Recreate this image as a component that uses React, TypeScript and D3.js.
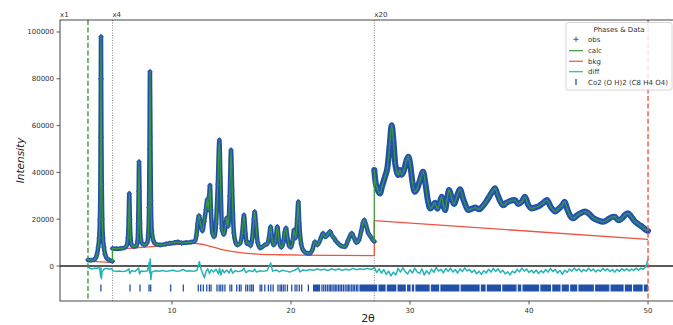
import React from 'react';
import * as d3 from 'd3';

const W = 673;
const H = 325;

// ---- observed / calculated profile, as displayed (scaled x1, x4, x20) ----
const region1: [number, number][] = [
  [2.94, 2600], [3.2, 2500], [3.45, 2700], [3.6, 3500], [3.7, 5000], [3.8, 8000], [3.88, 12000],
  [3.94, 20000], [3.98, 35000], [4.0, 55000], [4.02, 80000], [4.035, 98000], [4.05, 80000],
  [4.07, 55000], [4.1, 35000], [4.14, 20000], [4.2, 12000], [4.28, 8000], [4.38, 5000],
  [4.5, 3500], [4.7, 2600], [5.0, 2000],
];

const region2: [number, number][] = [
  [5.0, 7500], [5.3, 7400], [5.7, 7500], [6.0, 7800], [6.2, 8800], [6.3, 12000], [6.36, 20000],
  [6.41, 31000], [6.46, 20000], [6.52, 12000], [6.62, 9000], [6.8, 8300], [7.0, 8600],
  [7.1, 10500], [7.16, 18000], [7.2, 32000], [7.23, 44600], [7.27, 32000], [7.31, 18000],
  [7.38, 11500], [7.5, 9500], [7.7, 9000], [7.9, 9800], [8.0, 13000], [8.07, 25000],
  [8.11, 50000], [8.15, 83000], [8.19, 55000], [8.23, 28000], [8.3, 15000], [8.42, 11000],
  [8.6, 9500], [9.0, 9000], [9.5, 9400], [9.8, 9700], [10.2, 10000], [10.5, 10300],
  [10.8, 9800], [11.2, 10000], [11.6, 10200], [11.9, 10500], [12.05, 13000], [12.15, 18000],
  [12.27, 21500], [12.4, 18000], [12.55, 15000], [12.7, 19000], [12.85, 24000], [12.97, 28500],
  [13.05, 24000], [13.13, 30000], [13.19, 34500], [13.27, 24000], [13.4, 14000], [13.55, 12500],
  [13.7, 18000], [13.85, 35000], [13.98, 53800], [14.07, 38000], [14.2, 16000], [14.35, 13500],
  [14.5, 17000], [14.6, 20500], [14.72, 17000], [14.85, 30000], [14.96, 49600], [15.06, 32000],
  [15.2, 14000], [15.35, 10000], [15.5, 9000], [15.7, 9500], [15.9, 14000], [16.05, 21800],
  [16.17, 14000], [16.3, 9500], [16.45, 10000], [16.6, 8600], [16.75, 12000], [16.88, 20000],
  [16.95, 23200], [17.05, 18000], [17.2, 10000], [17.4, 7700], [17.6, 8200], [17.8, 9000],
  [18.0, 9500], [18.15, 12000], [18.29, 16800], [18.42, 11000], [18.55, 9000], [18.7, 11000],
  [18.85, 16800], [19.0, 10500], [19.2, 8000], [19.35, 10000], [19.48, 14500], [19.58, 16200],
  [19.7, 12000], [19.85, 8500], [20.0, 8000], [20.15, 11000], [20.25, 15400], [20.4, 12000],
  [20.52, 20000], [20.61, 27500], [20.7, 18000], [20.85, 9500], [21.0, 7000], [21.2, 5800],
  [21.4, 5400], [21.6, 5400], [21.8, 7000], [22.0, 10400], [22.2, 9000], [22.4, 10500],
  [22.55, 12500], [22.7, 14000], [22.85, 12500], [23.0, 12800], [23.15, 14000], [23.28, 14700],
  [23.45, 13000], [23.6, 12000], [23.8, 10500], [24.0, 9500], [24.2, 8600], [24.54, 8250],
  [24.8, 11000], [25.1, 14000], [25.3, 12000], [25.5, 10000], [25.7, 11000], [25.9, 15000],
  [26.05, 18500], [26.16, 19700], [26.3, 17500], [26.5, 14000], [26.7, 12500], [26.9, 11000],
  [27.0, 10500],
];

const region3: [number, number][] = [
  [27.0, 41000], [27.1, 36000], [27.25, 33000], [27.48, 31000], [27.65, 34000], [27.9, 38200],
  [28.1, 42000], [28.3, 52000], [28.46, 60200], [28.6, 54000], [28.75, 44000], [28.9, 40000],
  [29.0, 38900], [29.15, 41000], [29.3, 39000], [29.5, 41000], [29.7, 45000], [29.86, 46700],
  [30.0, 44000], [30.2, 36000], [30.4, 31700], [30.6, 33000], [30.85, 37000], [31.1, 40300],
  [31.3, 35000], [31.5, 28000], [31.7, 24600], [31.9, 25500], [32.1, 27000], [32.3, 24500],
  [32.5, 27000], [32.66, 29600], [32.8, 26000], [32.94, 23900], [33.1, 28000], [33.28, 32500],
  [33.5, 29000], [33.7, 26500], [33.95, 30000], [34.2, 32800], [34.45, 29000], [34.7, 25500],
  [34.9, 23900], [35.2, 24500], [35.5, 25000], [35.8, 24200], [36.1, 25500], [36.4, 27500],
  [36.7, 30000], [36.95, 32000], [37.14, 33200], [37.35, 30500], [37.6, 27500], [37.84, 26000],
  [38.1, 27000], [38.4, 27800], [38.82, 28200], [39.1, 26500], [39.4, 27500], [39.66, 29600],
  [39.9, 26500], [40.2, 24600], [40.5, 25000], [40.8, 25500], [41.2, 27000], [41.5, 28200],
  [41.8, 25500], [42.2, 23300], [42.5, 24500], [42.8, 26000], [43.0, 27500], [43.2, 24500],
  [43.45, 21500], [43.72, 20400], [44.0, 21500], [44.3, 22500], [44.7, 23300], [45.0, 22500],
  [45.4, 20500], [45.8, 19500], [46.25, 18900], [46.6, 19800], [47.0, 21000], [47.2, 21100],
  [47.5, 19500], [47.8, 20300], [48.1, 22000], [48.33, 22500], [48.6, 21000], [48.9, 19000],
  [49.2, 17800], [49.5, 16800], [49.8, 15500], [50.0, 15000],
];

// ---- background ----
const bkg1: [number, number][] = [[2.94, 2100], [4.0, 1800], [5.0, 1500]];
const bkg2: [number, number][] = [
  [5.0, 7100], [6, 7400], [7, 7800], [8, 8200], [9, 8600], [10, 9000], [11, 9400], [11.8, 9700],
  [12.5, 9300], [13.3, 8300], [14.3, 6900], [15.3, 6000], [16.3, 5400], [17.5, 5000], [19, 4800],
  [21, 4650], [24, 4550], [27.0, 4450],
];
const bkg3: [number, number][] = [[27.0, 19400], [50.0, 11400]];

// ---- difference curve ----
const diffLow: [number, number][] = [
  [2.94, -300], [3.1, -1000], [3.3, -1300], [3.5, -900], [3.7, -1100], [3.85, -500], [3.95, -1800],
  [4.0, -4600], [4.03, -800], [4.07, -5400], [4.13, -2400], [4.3, -1300], [4.5, -1000], [4.7, -1400],
  [4.9, -1100], [5.0, -1600],
  [5.0, -2000], [5.3, -2300], [5.6, -2100], [5.9, -2400], [6.2, -2000], [6.38, -1200], [6.44, -3200],
  [6.6, -2000], [6.9, -2300], [7.2, -900], [7.27, -3400], [7.4, -2100], [7.7, -2300], [7.95, -2000],
  [8.08, 1500], [8.13, -3000], [8.17, 3000], [8.22, -5800], [8.3, -2600], [8.6, -2000], [8.9, -2200],
  [9.2, -1900], [9.5, -2300], [9.8, -2000], [10.1, -1800], [10.4, -2300], [10.7, -2000], [10.95, -1500],
  [11.2, -2200], [11.5, -2000], [11.8, -2300], [12.1, -1800], [12.3, 1800], [12.45, -1500],
  [12.6, -3500], [12.72, -5000], [12.85, -2500], [13.0, -1200], [13.15, -3200], [13.3, -1600],
  [13.5, -2600], [13.7, -1400], [13.9, -3400], [14.0, -1000], [14.1, -3800], [14.25, -1500],
  [14.4, -2900], [14.6, -1700], [14.8, -3000], [14.95, -1200], [15.1, -3100], [15.3, -2000],
  [15.6, -2400], [15.9, -1900], [16.05, -1000], [16.2, -2800], [16.5, -1900], [16.8, -2400],
  [16.95, -1300], [17.1, -2600], [17.4, -2000], [17.7, -2300], [18.0, -1900], [18.29, 1300],
  [18.45, -2200], [18.8, -1700], [19.0, -2500], [19.3, -1800], [19.6, -2200], [19.9, -2600],
  [20.1, -2200], [20.4, -1600], [20.6, -800], [20.75, -2500], [21.0, -1700], [21.3, -1900],
  [21.6, -1500], [21.9, -1800], [22.2, -1300], [22.5, -1700], [22.8, -1400], [23.1, -1900],
  [23.4, -1200], [23.7, -1700], [24.0, -1300], [24.3, -1800], [24.6, -1400], [24.9, -1700],
  [25.2, -1000], [25.5, -1600], [25.8, -1200], [26.1, -1500], [26.4, -1000], [26.7, -1500],
  [27.0, -800],
];
const diffHighStart = 27.0;
const diffHighStep = 0.2;
const diffHighValues = [
  -600, -2800, -1200, -3000, -1500, -3600, -2200, -4200, -2600, -3800, -1000, -2600, -800, -2400,
  -3400, -1600, -3000, -900, -2500, -3200, -1200, -3800, -2000, -3500, -1300, -2700, -600, -2200,
  -1400, -2900, -1100, -2300, -900, -2600, -1500, -3000, -1200, -2400, -800, -2100, -1500, -2800,
  -1700, -3300, -2200, -3600, -2000, -3000, -1400, -2600, -1000, -2300, -1200, -2800, -1800, -3400,
  -2500, -3800, -2200, -3000, -1400, -2500, -900, -2200, -1300, -2800, -1800, -3000, -1700, -3200,
  -2000, -2900, -1500, -2600, -1000, -2400, -1500, -3000, -1900, -3600, -1800, -2700, -1300, -2200,
  -900, -2000, -1200, -2500, -1500, -2200, -1000, -2100, -1300, -2500, -1600, -2300, -1000, -2000,
  -1200, -2400, -1500, -2600, -1400, -2300, -1100, -2000, -1200, -2100, -1300, -1900, -900, -1800,
  -900, -1400, -300, 2800,
];

// ---- reflection positions (2θ) ----
const reflTicks = [
  4.03, 6.47, 7.31, 8.07, 8.21, 9.89, 10.95, 12.21, 12.41, 12.63, 12.92, 13.14, 13.28, 13.78, 13.96,
  14.1, 14.26, 14.45, 14.87, 15.02, 15.44, 15.66, 15.8, 16.2, 16.36, 16.55, 16.7, 16.83, 17.4, 17.54,
  17.8, 18.1, 18.3, 18.5, 18.9, 19.08, 19.2, 19.35, 19.5, 19.7, 20.06, 20.34, 20.5, 20.7, 20.9, 21.46,
  22.6, 22.75, 22.9, 23.05, 23.2, 23.32, 23.45, 23.6, 23.72, 23.85, 24.0, 24.12, 24.25, 24.4, 24.55,
  24.7, 24.82, 24.95, 25.1, 25.22, 25.35, 25.5, 25.62,
];
const reflBands: [number, number][] = [
  [21.85, 22.45], [25.75, 27.25], [27.35, 27.95], [28.05, 28.85], [28.95, 29.65], [29.75, 30.05],
  [30.15, 30.35], [30.45, 31.65], [31.75, 32.45], [32.55, 34.15], [34.25, 35.85], [35.95, 36.35],
  [36.45, 37.65], [37.75, 38.95], [39.05, 39.35], [39.45, 40.85], [40.95, 41.85], [41.95, 42.65],
  [42.75, 43.35], [43.45, 44.05], [44.15, 45.45], [45.55, 46.75], [46.85, 47.95], [48.05, 48.65],
  [48.75, 49.55], [49.65, 50.0],
];

const xTicks = [10, 20, 30, 40, 50];
const yTicks = [0, 20000, 40000, 60000, 80000, 100000];
const scaleLabels = ['x1', 'x4', 'x20'];
const scaleStarts = [0.59, 5.0, 27.0];
const limits = [2.94, 50.0];
const reflLevel = -9400;

const C_OBS = '#2150a8';
const C_MARK = '#2d5dc0';
const C_CALC = '#3c9a3c';
const C_BKG = '#ef5443';
const C_DIFF = '#25b4b4';

export default function App() {
  const x = d3.scaleLinear().domain([0.59, 52.35]).range([60, 676]);
  const y = d3.scaleLinear().domain([-14957, 105128]).range([301, 20]);
  const smooth = d3.line<[number, number]>().x((d) => x(d[0])).y((d) => y(d[1])).curve(d3.curveMonotoneX);
  const straight = d3.line<[number, number]>().x((d) => x(d[0])).y((d) => y(d[1]));

  const regions = [region1, region2, region3];
  const bkgs = [bkg1, bkg2, bkg3];
  const diffHigh: [number, number][] = diffHighValues.map((v, i) => [diffHighStart + i * diffHighStep, v]);
  const diffAll = diffLow.concat(diffHigh);

  const joins = (arr: [number, number][][]) =>
    arr.slice(1).map((r, i) => {
      const a = arr[i][arr[i].length - 1];
      const b = r[0];
      return [a, b] as [number, number][];
    });

  const top = 20, bottom = 301, left = 60;
  const font = "'DejaVu Sans', sans-serif";

  return (
    <svg width={W} height={H} style={{ position: 'fixed', left: 0, top: 0, background: '#fff' }} fontFamily={font}>
      <rect x={0} y={0} width={W} height={H} fill="#fff" />
      {/* zero line */}
      <line x1={left} x2={676} y1={y(0)} y2={y(0)} stroke="#222" strokeWidth={1.3} />
      {/* scale boundaries */}
      {scaleStarts.slice(1).map((t, i) => (
        <line key={'sb' + i} x1={x(t)} x2={x(t)} y1={top} y2={bottom} stroke="#777" strokeWidth={0.9} strokeDasharray="1,1.5" />
      ))}
      {/* diff */}
      <path d={straight(diffAll) || ''} fill="none" stroke={C_DIFF} strokeWidth={1.5} strokeLinejoin="round" />
      {/* background */}
      {bkgs.map((b, i) => (
        <path key={'bk' + i} d={smooth(b) || ''} fill="none" stroke={C_BKG} strokeWidth={1.3} />
      ))}
      {joins(bkgs).map((s, i) => (
        <path key={'bj' + i} d={straight(s) || ''} fill="none" stroke={C_BKG} strokeWidth={1.3} />
      ))}
      {/* observed band */}
      {regions.map((r, i) => (
        <path key={'ob' + i} d={smooth(r) || ''} fill="none" stroke={C_OBS} strokeWidth={i === 2 ? 6 : 4.5} strokeLinejoin="round" strokeLinecap="round" />
      ))}
      {regions.map((r, i) =>
        r.map((d, j) => (
          <path key={'m' + i + '-' + j} d={`M${x(d[0]) - 2.6},${y(d[1])}h5.2M${x(d[0])},${y(d[1]) - 2.6}v5.2`} stroke={C_MARK} strokeWidth={1} />
        ))
      )}
      {/* calc */}
      {regions.map((r, i) => (
        <path key={'c' + i} d={smooth(r) || ''} fill="none" stroke={C_CALC} strokeWidth={1.2} />
      ))}
      {joins(regions).map((s, i) => (
        <path key={'cj' + i} d={straight(s) || ''} fill="none" stroke={C_CALC} strokeWidth={1.2} />
      ))}
      {/* reflection ticks */}
      {reflTicks.map((t, i) => (
        <line key={'rt' + i} x1={x(t)} x2={x(t)} y1={y(reflLevel) - 3.5} y2={y(reflLevel) + 3.5} stroke={C_OBS} strokeWidth={1.3} />
      ))}
      {reflBands.map((b, i) => (
        <rect key={'rb' + i} x={x(b[0])} y={y(reflLevel) - 3.5} width={x(b[1]) - x(b[0])} height={7} fill={C_OBS} />
      ))}
      {/* limit lines */}
      <line x1={x(limits[0])} x2={x(limits[0])} y1={top} y2={bottom} stroke="#3a9a3a" strokeWidth={1.4} strokeDasharray="5,2.6" />
      <line x1={x(limits[1])} x2={x(limits[1])} y1={top} y2={bottom} stroke="#f0584a" strokeWidth={1.4} strokeDasharray="5,2.6" />
      {/* frame */}
      <rect x={left} y={top} width={676 - left} height={bottom - top} fill="none" stroke="#333" strokeWidth={0.9} />
      {/* x axis */}
      {xTicks.map((t) => (
        <g key={'xt' + t}>
          <line x1={x(t)} x2={x(t)} y1={bottom} y2={bottom + 3.5} stroke="#333" strokeWidth={0.8} />
          <text x={x(t)} y={bottom + 11.5} fontSize={7} textAnchor="middle" fill="#333">{t}</text>
        </g>
      ))}
      {/* y axis */}
      {yTicks.map((t) => (
        <g key={'yt' + t}>
          <line x1={left - 3.5} x2={left} y1={y(t)} y2={y(t)} stroke="#333" strokeWidth={0.8} />
          <text x={left - 6} y={y(t) + 2.5} fontSize={7} textAnchor="end" fill="#333">{t}</text>
        </g>
      ))}
      {/* scale labels */}
      {scaleLabels.map((s, i) => (
        <text key={'sl' + i} x={x(scaleStarts[i])} y={top - 3} fontSize={7} fill="#333">{s}</text>
      ))}
      {/* axis titles */}
      <text transform={`translate(24,${(top + bottom) / 2}) rotate(-90)`} fontSize={10.5} fontStyle="italic" textAnchor="middle" fill="#222">Intensity</text>
      <text x={368} y={321.5} fontSize={11} textAnchor="middle" fill="#222">2θ</text>
      {/* legend */}
      <g>
        <rect x={566} y={22.5} width={106} height={67.5} rx={2} fill="#fff" fillOpacity={0.8} stroke="#cccccc" strokeWidth={0.8} />
        <text x={619} y={31.5} fontSize={7} textAnchor="middle" fill="#333">Phases &amp; Data</text>
        <path d="M573.4,39.3h5.2M576,36.7v5.2" stroke={C_MARK} strokeWidth={1} />
        <text x={588} y={41.8} fontSize={7} fill="#333">obs</text>
        <line x1={569} x2={583} y1={50.7} y2={50.7} stroke={C_CALC} strokeWidth={1.2} />
        <text x={588} y={53.2} fontSize={7} fill="#333">calc</text>
        <line x1={569} x2={583} y1={61.3} y2={61.3} stroke={C_BKG} strokeWidth={1.2} />
        <text x={588} y={63.8} fontSize={7} fill="#333">bkg</text>
        <line x1={569} x2={583} y1={71.7} y2={71.7} stroke={C_DIFF} strokeWidth={1.2} />
        <text x={588} y={74.2} fontSize={7} fill="#333">diff</text>
        <line x1={576} x2={576} y1={79} y2={85} stroke={C_OBS} strokeWidth={1.3} />
        <text x={588} y={84.5} fontSize={7} fill="#333">Co2 (O H)2 (C8 H4 O4)</text>
      </g>
    </svg>
  );
}
